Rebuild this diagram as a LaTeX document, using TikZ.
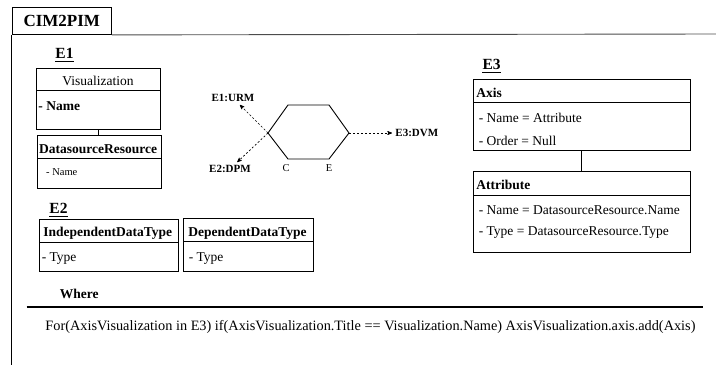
\documentclass[tikz,border=0pt]{standalone}
\usepackage{fontspec}
\setmainfont{Liberation Serif}
\usepackage{tikz}
\usetikzlibrary{arrows}
\usetikzlibrary{positioning}

\newcommand\txtsize{\fontsize{13.5}{16}\selectfont}
\newcommand\smlsize{\fontsize{10.5}{12}\selectfont}

\begin{document}
\begin{tikzpicture}[x=1pt,y=-1pt,line width=0.9pt,>=stealth',
		class head/.style={draw,anchor=north west,inner xsep=3pt,inner ysep=0pt,outer sep=0pt,
			align=left,text height=12pt,text depth=0pt,font=\txtsize\bfseries},
		class body/.style={draw,inner sep=0pt,outer sep=0pt,below=0pt of #1},
		attr/.style={anchor=base west,inner sep=0pt,font=\txtsize},
		tag/.style={anchor=base,inner sep=0pt,font=\fontsize{15.5}{18}\selectfont\bfseries},
		view/.style={inner sep=2pt,font=\fontsize{11}{13}\selectfont\bfseries},
		flow/.style={->,line width=0.7pt,dash pattern=on 2pt off 2pt,shorten >=1pt}]

		\useasboundingbox (0,0) rectangle (716,365);

		\node[draw,anchor=north west,inner sep=0pt,minimum width=99.3pt,minimum height=26.7pt,
			font=\fontsize{17}{20}\selectfont\bfseries] (tab) at (11.7,7.3) {CIM2PIM};
		\coordinate (frright) at (716,34);
		\coordinate (frbottom) at (11.7,365);
		\draw[black!70] (tab.south east) -- (frright);
		\draw (tab.south west) -- (frbottom);

		\node[tag] (e1) at (64.5,58) {E1};
		\node[tag] (e2) at (58.5,213.3) {E2};
		\node[tag] (e3) at (491.7,69.3) {E3};
		\foreach \t in {e1,e2,e3}
			\draw[line width=1pt] ([yshift=-3pt]\t.base west) -- ([yshift=-3pt]\t.base east);

		\node[class head,text width=118pt,align=center,font=\txtsize,minimum height=22.4pt] (vish) at (36,68.3) {Visualization};
		\node[class body=vish,minimum width=124pt,minimum height=38.6pt] (visb) {};
		\node[attr,font=\txtsize\bfseries] (visname) at ([shift={(2,19.3)}]visb.north west) {- Name};

		\node[class head,inner xsep=1.5pt,text width=121pt,minimum height=22.6pt] (dsh) at (37.7,135.7) {DatasourceResource};
		\node[class body=dsh,minimum width=124pt,minimum height=30pt] (dsb) {};
		\node[attr,font=\smlsize] (dsname) at ([shift={(8,17.4)}]dsb.north west) {- Name};

		\node[class head,inner xsep=4pt,text width=131pt,minimum height=23pt] (indh) at (39.3,219.3) {IndependentDataType};
		\node[class body=indh,minimum width=139pt,minimum height=29.4pt] (indb) {};
		\node[attr] (indtype) at ([shift={(2,19.4)}]indb.north west) {- Type};

		\node[class head,inner xsep=5pt,text width=120pt,minimum height=23.4pt] (deph) at (183.3,218.3) {DependentDataType};
		\node[class body=deph,minimum width=130pt,minimum height=29.3pt] (depb) {};
		\node[attr] (deptype) at ([shift={(5,19.3)}]depb.north west) {- Type};

		\node[class head,text width=210.7pt,minimum height=23.4pt] (axh) at (473.3,79.3) {Axis};
		\node[class body=axh,minimum width=216.7pt,minimum height=47.3pt] (axb) {};
		\node[attr] (axname) at ([shift={(5,19.6)}]axb.north west) {- Name = Attribute};
		\node[attr] (axorder) at ([shift={(5,43)}]axb.north west) {- Order = Null};

		\node[class head,text width=210.7pt,minimum height=24pt] (ath) at (473.3,171) {Attribute};
		\node[class body=ath,minimum width=216.7pt,minimum height=57.7pt] (atb) {};
		\node[attr] (atname) at ([shift={(5,19)}]atb.north west) {- Name = DatasourceResource.Name};
		\node[attr] (attype) at ([shift={(5,40.7)}]atb.north west) {- Type = DatasourceResource.Type};

		\draw (visb.south) -- (visb.south |- dsh.north);
		\draw (axb.south) -- (axb.south |- ath.north);

		\coordinate (hl) at (268,133);
		\coordinate (htl) at (288,105);
		\coordinate (htr) at (329,105);
		\coordinate (hr) at (349,133);
		\coordinate (hbr) at (329,159);
		\coordinate (hbl) at (288,159);
		\draw (hl) -- (htl) -- (htr) -- (hr) -- (hbr) -- (hbl) -- cycle;
		\node[font=\smlsize,inner sep=0pt] (cl) at (286,168) {C};
		\node[font=\smlsize,inner sep=0pt] (el) at (329,168) {E};

		\node[view] (urm) at (233,98) {E1:URM};
		\node[view] (dpm) at (230,169) {E2:DPM};
		\node[view,anchor=west] (dvm) at (393,133) {E3:DVM};
		\path[flow]
		(hl) edge (urm)
		(hl) edge (dpm)
		(hr) edge (dvm);

		\node[attr,font=\txtsize\bfseries] (where) at (59.3,298.3) {Where};
		\coordinate (wl) at (26.7,306.7);
		\coordinate (wr) at (703,306.7);
		\draw[line width=2pt] (wl) -- (wr);
		\node[attr,font=\fontsize{14.3}{17}\selectfont] (rule) at (45,330) {For(AxisVisualization in E3) if(AxisVisualization.Title == Visualization.Name) AxisVisualization.axis.add(Axis)};
	\end{tikzpicture}
\end{document}
